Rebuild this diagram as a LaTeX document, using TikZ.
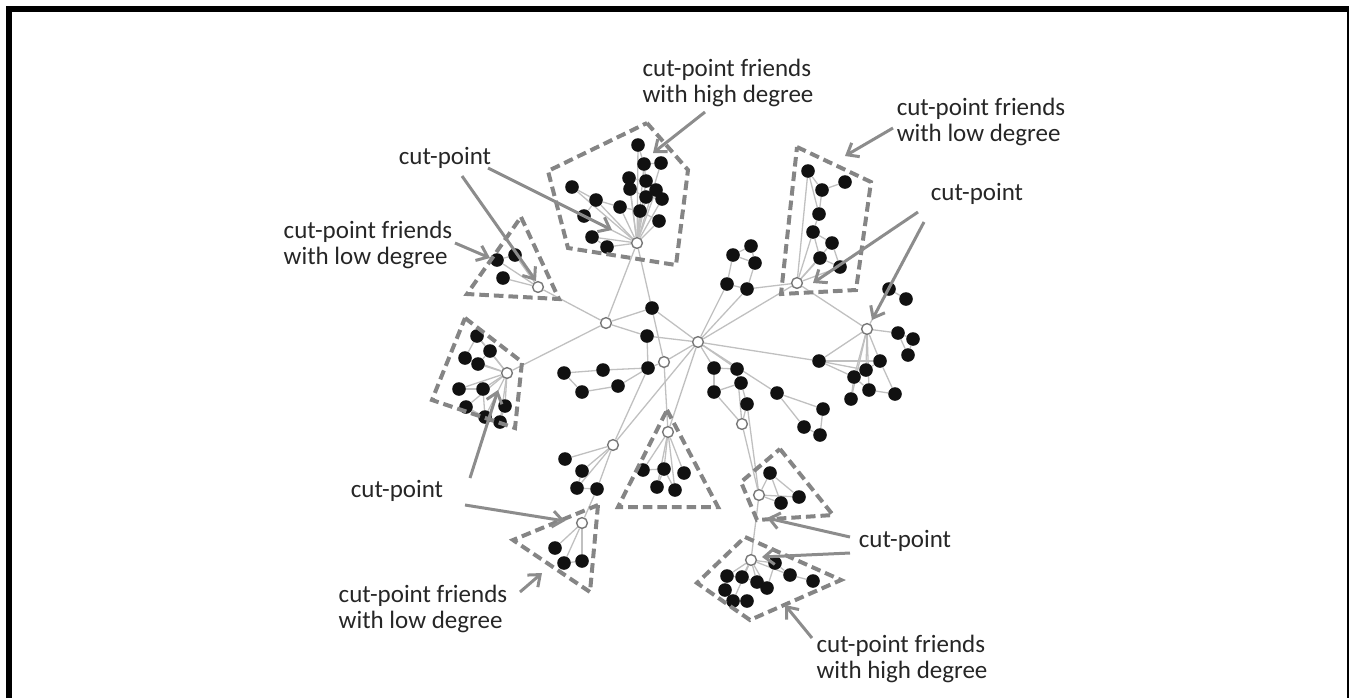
\documentclass[tikz,border=0pt]{standalone}
\usepackage{fontspec}
\setmainfont{Carlito}
\usetikzlibrary{arrows.meta}
\definecolor{edgec}{HTML}{C0C0C0}
\definecolor{grpc}{HTML}{858585}
\definecolor{arrc}{HTML}{8C8C8C}
\definecolor{txtc}{HTML}{262626}
\definecolor{nodec}{HTML}{111111}
\definecolor{wbord}{HTML}{777777}
\pgfdeclarelayer{bg}
\pgfsetlayers{bg,main}
\begin{document}
\begin{tikzpicture}[x=0.5pt,y=-0.5pt,
 blk/.style={circle,fill=nodec,inner sep=0pt,minimum size=6.8pt},
 wht/.style={circle,draw=wbord,fill=white,line width=0.7pt,inner sep=0pt,minimum size=5.4pt},
 edge/.style={draw=edgec,line width=0.65pt},
 grp/.style={draw=grpc,line width=2pt,dash pattern=on 4.8pt off 2.5pt,line join=miter},
 arr/.style={draw=arrc,line width=1.5pt,-{Straight Barb[length=5pt,width=8pt]}},
 lbl/.style={text=txtc,font=\fontsize{12.5}{13}\selectfont,align=left,inner sep=0pt}]
\useasboundingbox (0,0) rectangle (1349,698);
% frame
\draw[line width=3pt] (9,698) -- (9,9) -- (1352,9);
\draw[line width=3pt] (1350,9) -- (1350,698);

% white cut-points
\foreach \n/\x/\y in {pw/637/243,qw/797/283,tw/538/287,bw/507/373,w1/606/323,hub/698/342,w2/664/362,
  rw/867/329,lw/742/424,sw/613/445,vw/668/432,xw/582/523,yw/759/495,zw/751/560}
  \node[wht] (\n) at (\x,\y) {};
% black nodes
\foreach \n/\x/\y in {
  p1/638/145,p2/644/164,p3/661/163,p4/629/178,p5/646/181,p6/630/189,p7/656/190,p8/646/197,p9/662/199,
  p10/572/187,p11/596/200,p12/620/207,p13/640/211,p14/584/216,p15/659/221,p16/592/237,p17/607/247,
  q1/808/171,q2/822/190,q3/845/182,q4/819/214,q5/813/232,q6/832/243,q7/820/258,q8/840/267,
  t1/497/260,t2/515/255,t3/503/278,
  b1/477/336,b2/490/351,b3/465/358,b4/478/364,b5/459/389,b6/483/389,b7/466/407,b8/505/406,b9/485/417,b10/500/422,
  c1/652/308,c2/647/336,c3/648/368,c4/564/373,c5/603/370,c6/582/392,c7/618/386,
  u1/733/255,u2/751/246,u3/755/263,u4/727/284,u5/747/289,
  r1/889/289,r2/906/299,r3/898/333,r4/913/339,r5/908/355,r6/880/361,r7/866/370,r8/854/377,r9/869/390,
  r10/851/399,r11/895/394,r12/819/361,
  l1/714/368,l2/737/369,l3/741/383,l4/714/392,l5/747/404,l6/777/393,l7/823/409,l8/804/427,l9/820/435,
  s1/565/459,s2/582/471,s3/577/488,s4/597/489,
  v1/643/470,v2/664/469,v3/684/473,v4/657/487,v5/675/490,
  x1/555/548,x2/564/563,x3/582/561,
  y1/770/473,y2/799/497,y3/781/503,
  z1/775/563,z2/790/575,z3/813/581,z4/727/576,z5/742/577,z6/757/582,z7/767/588,z8/725/590,z9/733/601,z10/747/601}
  \node[blk] (\n) at (\x,\y) {};

\begin{pgfonlayer}{bg}
\foreach \a/\b in {
  pw/p1,pw/p2,pw/p3,pw/p4,pw/p5,pw/p6,pw/p7,pw/p8,pw/p9,pw/p10,pw/p11,pw/p12,pw/p13,pw/p14,pw/p15,pw/p16,pw/p17,
  p1/p2,p2/p3,p4/p5,p5/p7,p6/p8,p8/p9,p10/p11,p11/p12,p12/p13,p14/p11,p16/p17,p13/p15,p4/p6,p7/p9,p2/p5,
  qw/q1,qw/q5,qw/q6,qw/q7,qw/q8,q1/q2,q2/q3,q2/q4,q1/q4,q4/q5,q5/q6,q5/q7,q6/q8,q7/q8,
  tw/t1,tw/t2,tw/t3,t1/t2,
  bw/b1,bw/b2,bw/b3,bw/b4,bw/b5,bw/b6,bw/b7,bw/b8,bw/b9,bw/b10,b1/b2,b3/b4,b2/b4,b5/b6,b6/b9,b7/b9,b8/b10,b1/b3,
  w1/tw,w1/pw,w1/bw,w1/c1,w1/c2,c1/hub,c2/hub,pw/w2,w2/hub,w2/c3,c2/c3,c3/c5,c5/c4,c4/c6,c6/c7,c7/c3,
  u1/u2,u2/u3,u1/u3,u1/u4,u3/u5,u4/u5,u4/hub,u5/hub,u5/qw,hub/qw,
  rw/r1,r1/r2,rw/r3,r3/r4,r4/r5,r3/r5,rw/r6,rw/r7,rw/r8,rw/r9,rw/r10,r6/r11,r6/r7,r7/r8,r8/r9,r9/r11,r8/r10,
  r12/r6,r12/r7,r12/r8,r12/rw,hub/r12,qw/rw,
  hub/l1,hub/l2,l1/l2,l2/l3,l1/l4,l4/l3,l3/l5,l5/lw,l4/lw,l2/lw,hub/l6,l6/l7,l6/l8,l7/l9,l8/l9,
  sw/s1,sw/s2,sw/s3,sw/s4,s2/s3,s3/s4,hub/sw,c3/sw,
  vw/v1,vw/v2,vw/v3,vw/v4,vw/v5,v1/v2,v2/v4,v2/v5,hub/vw,w2/vw,
  xw/x1,xw/x2,xw/x3,x2/x3,s4/xw,
  yw/y1,yw/y2,yw/y3,y1/y2,y1/y3,lw/yw,l5/yw,
  yw/zw,zw/z1,zw/z2,zw/z4,zw/z5,zw/z6,zw/z7,zw/z9,z1/z2,z2/z3,z4/z5,z5/z6,z6/z7,z8/z9,z9/z10,z4/z8,z1/z7}
  \draw[edge] (\a) -- (\b);
\end{pgfonlayer}

% dashed groups
\draw[grp] (647,123) -- (688,170) -- (676,265) -- (568,248) -- (548,171) -- cycle;
\draw[grp] (797,147) -- (871,182) -- (856,290) -- (781,294) -- cycle;
\draw[grp] (521,217) -- (559,299) -- (467,294) -- cycle;
\draw[grp] (465,318) -- (522,362) -- (515,428) -- (432,400) -- cycle;
\draw[grp] (667,410) -- (718,507) -- (618,507) -- cycle;
\draw[grp] (598,505) -- (590,592) -- (513,540) -- cycle;
\draw[grp] (780,449) -- (833,515) -- (757,520) -- (741,482) -- cycle;
\draw[grp] (745,537) -- (841,580) -- (750,620) -- (697,583) -- cycle;

% labels
\node[lbl] (L1) at (728,83) {cut-point friends\\with high degree};
\node[lbl] (L2) at (445,158) {cut-point};
\node[lbl] (L3) at (981,122) {cut-point friends\\with low degree};
\node[lbl] (L4) at (977,194) {cut-point};
\node[lbl] (L5) at (368,245) {cut-point friends\\with low degree};
\node[lbl] (L6) at (397,491) {cut-point};
\node[lbl] (L7) at (423,609) {cut-point friends\\with low degree};
\node[lbl] (L8) at (905,541) {cut-point};
\node[lbl] (L9) at (902,659) {cut-point friends\\with high degree};

% arrow ends
\coordinate (a1s) at (705,112); \coordinate (a1e) at (653,153);
\coordinate (a2s) at (462,176); \coordinate (a2e) at (536,281);
\coordinate (a3s) at (488,168); \coordinate (a3e) at (612,230);
\coordinate (a4s) at (893,128); \coordinate (a4e) at (845,156);
\coordinate (a5s) at (918,212); \coordinate (a5e) at (813,283);
\coordinate (a6s) at (924,222); \coordinate (a6e) at (872,320);
\coordinate (a7s) at (455,243); \coordinate (a7e) at (490,258);
\coordinate (a8s) at (470,478); \coordinate (a8e) at (498,390);
\coordinate (a9s) at (465,505); \coordinate (a9e) at (565,521);
\coordinate (a10s) at (520,592); \coordinate (a10e) at (542,573);
\coordinate (a11s) at (850,537); \coordinate (a11e) at (767,518);
\coordinate (a12s) at (850,553); \coordinate (a12e) at (762,557);
\coordinate (a13s) at (812,638); \coordinate (a13e) at (785,605);
\foreach \i in {1,...,13} \draw[arr] (a\i s) -- (a\i e);
\end{tikzpicture}
\end{document}
